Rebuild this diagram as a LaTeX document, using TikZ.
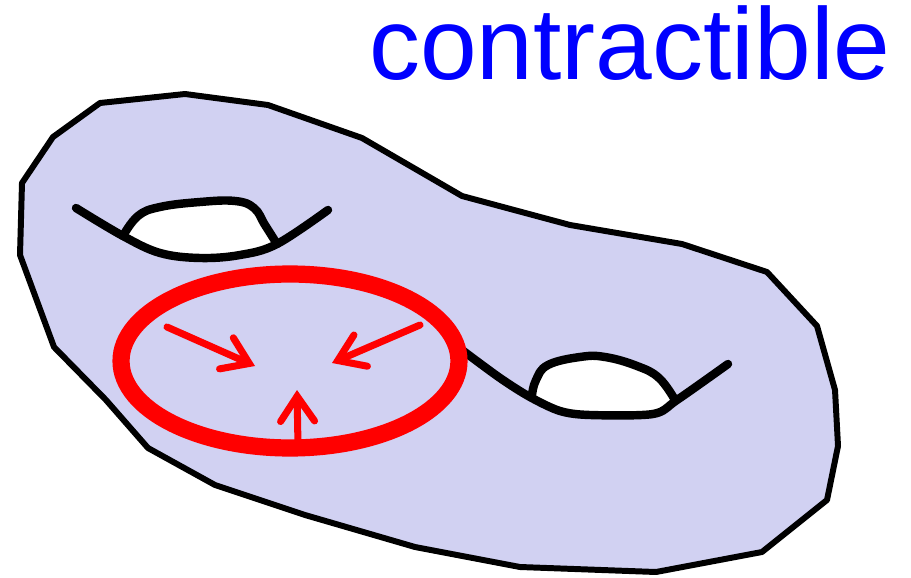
\documentclass[tikz,border=0pt]{standalone}
\usepackage{fontspec}
\setmainfont{Liberation Sans}
\usetikzlibrary{arrows.meta}
\definecolor{surface}{HTML}{D1D1F2}
\definecolor{loopred}{HTML}{FF0000}
\definecolor{labelblue}{HTML}{0000FF}

\begin{document}
\begin{tikzpicture}[x=0.02cm,y=-0.02cm,
  rim/.style={draw=black,line width=3.4pt,line join=round},
  handle/.style={draw=black,line width=4.8pt,line cap=round,line join=round},
  shrink/.style={draw=loopred,line width=4pt,line cap=round,
    -{Straight Barb[length=0.5cm,width=0.68cm,line cap=round]}}]
\useasboundingbox (0,0) rectangle (911,577);
% the surface of genus two
\path[rim,fill=surface] (100,103) -- (185,94) -- (268,105) -- (362,138) -- (462,196)
  -- (570,225) -- (682,244) -- (767,272) -- (817,326) -- (835,390) -- (838,446)
  -- (827,500) -- (762,552) -- (656,572) -- (520,567) -- (415,547) -- (305,515)
  -- (215,485) -- (148,448) -- (106,400) -- (54,347) -- (20,255) -- (22,183)
  -- (53,137) -- cycle;
% upper handle
\fill[white] plot[smooth,tension=0.7] coordinates {(123,236) (138,216) (160,207) (200,202) (235,201) (254,208) (265,225) (277,244)}
  -- plot[smooth,tension=0.6] coordinates {(277,244) (240,255) (200,258) (160,253) (123,236)} -- cycle;
\draw[handle] plot[smooth,tension=0.6] coordinates {(76,208) (123,236) (160,253) (200,258) (240,255) (277,244) (328,210)};
\draw[handle] plot[smooth,tension=0.7] coordinates {(123,236) (138,216) (160,207) (200,202) (235,201) (254,208) (265,225) (277,244)};
% lower handle
\fill[white] plot[smooth,tension=0.7] coordinates {(532,395) (536,380) (548,365) (580,357) (605,357) (637,366) (659,378) (675,400)}
  -- plot[smooth,tension=0.6] coordinates {(675,400) (653,414) (590,415) (560,411) (532,395)} -- cycle;
\draw[handle] plot[smooth,tension=0.5] coordinates {(462,350) (500,378) (530,397) (560,411) (590,415) (653,414) (677,400) (728,364)};
\draw[handle] plot[smooth,tension=0.7] coordinates {(532,395) (536,380) (548,365) (580,357) (605,357) (637,366) (659,378) (675,400)};
% the loop and its shrinking
\draw[loopred,line width=9.8pt] (290,361) ellipse [x radius=3.38cm,y radius=1.74cm];
\coordinate (lfrom) at (167,327);
\coordinate (lto) at (255,366);
\coordinate (rfrom) at (420,325);
\coordinate (rto) at (332,363);
\coordinate (bfrom) at (298,446);
\coordinate (bto) at (297,390);
\draw[shrink] (lfrom) -- (lto);
\draw[shrink] (rfrom) -- (rto);
\draw[shrink] (bfrom) -- (bto);
\node[anchor=base west,inner sep=0pt,text=labelblue,font=\fontsize{58}{60}\selectfont] (title) at (369,80) {contractible};
\end{tikzpicture}
\end{document}
